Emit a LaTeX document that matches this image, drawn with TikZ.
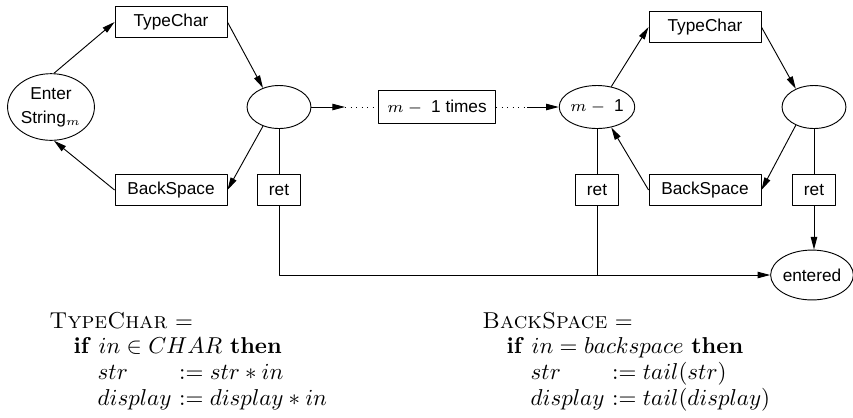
\documentclass[tikz,border=0pt]{standalone}
\usepackage{fontspec}
\newfontfamily\helv{Liberation Sans}
\usetikzlibrary{shapes.geometric,arrows.meta}

\begin{document}
\begin{tikzpicture}[x=0.435pt,y=-0.435pt,>={Triangle[length=5.5pt,width=2.8pt]},line join=round,
	box/.style={draw,rectangle,minimum width=48.7pt,minimum height=13.5pt,inner sep=0pt,font=\fontsize{7.5}{9}\helv},
	retbox/.style={box,minimum width=18.7pt},
	place/.style={draw,ellipse,minimum width=27.8pt,minimum height=18.7pt,inner sep=0pt,font=\fontsize{7.5}{9}\helv},
	code/.style={inner sep=0pt,anchor=base west,font=\fontsize{10}{12}\selectfont}]
	\useasboundingbox (0,0) rectangle (853,417);
	% places
	\node[place,minimum width=37.8pt,minimum height=29pt,align=center] (enter) at (51,107) {Enter\\[1.4pt]String$_m$};
	\node[place] (midL) at (279,107) {};
	\node[place] (m1) at (597,107) {$m -{}$ 1};
	\node[place] (midR) at (814,107) {};
	\node[place,minimum width=35pt,minimum height=21.7pt] (entered) at (812,275) {entered};
	% transitions
	\node[box] (tcL) at (171,22) {TypeChar};
	\node[box] (bsL) at (171,190) {BackSpace};
	\node[box] (tcR) at (705,27) {TypeChar};
	\node[box] (bsR) at (705,190) {BackSpace};
	\node[box,minimum width=51pt,minimum height=14pt] (times) at (437,107) {$m -{}$ 1 times};
	\node[retbox] (retL) at (279,190) {ret};
	\node[retbox] (retM) at (597,190) {ret};
	\node[retbox] (retR) at (814,190) {ret};
	\coordinate (d1) at (345,107);
	\coordinate (d2) at (527,107);
	% arcs
	\foreach \a/\b in {enter.85/tcL.west, tcL.east/midL.130, midL.-130/bsL.east, bsL.west/enter.-85,
		m1.55/tcR.west, tcR.east/midR.135, midR.-135/bsR.east, bsR.west/m1.-55}
		\draw[->] (\a) -- (\b);
	\foreach \p/\r in {midL/retL, m1/retM, midR/retR}
		\draw (\p) -- (\r);
	\draw[->] (midL) -- (d1);
	\draw[dotted] (d1) -- (times) -- (d2);
	\draw[->] (d2) -- (m1);
	\draw[->] (retL) |- (entered);
	\draw (retM) -- (retM |- entered);
	\draw[->] (retR) -- (retR |- entered.north);
	% definitions
	\renewcommand{\arraystretch}{0.94}
	\node[code] (tcdef) at (49,328) {\begin{tabular}[t]{@{}p{10.5pt}@{}p{10.5pt}@{}l@{\ }l@{}}
		\multicolumn{4}{@{}l@{}}{\textsc{TypeChar} =}\\
		& \multicolumn{3}{@{}l@{}}{\textbf{if} $in \in CHAR$ \textbf{then}}\\
		& & $str$ & $:= str * in$\\
		& & $display$ & $:= display * in$
	\end{tabular}};
	\node[code] (bsdef) at (482,328) {\begin{tabular}[t]{@{}p{10.5pt}@{}p{10.5pt}@{}l@{\ }l@{}}
		\multicolumn{4}{@{}l@{}}{\textsc{BackSpace} =}\\
		& \multicolumn{3}{@{}l@{}}{\textbf{if} $in = backspace$ \textbf{then}}\\
		& & $str$ & $:= tail(str)$\\
		& & $display$ & $:= tail(display)$
	\end{tabular}};
\end{tikzpicture}
\end{document}
